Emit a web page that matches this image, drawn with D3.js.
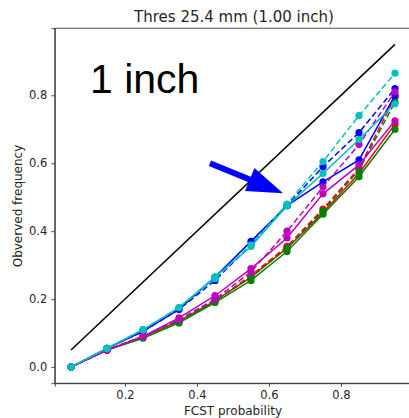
<!DOCTYPE html>
<html>
<head>
<meta charset="utf-8">
<script src="https://cdn.jsdelivr.net/npm/d3@7"></script>
<style>
    body { margin: 0; background: #fff; }
    svg { display: block; overflow: hidden; }
</style>
</head>
<body>
<div id="chart"></div>
<script>

// forecast probability bins
let probs = [0.05, 0.15, 0.25, 0.35, 0.45, 0.55, 0.65, 0.75, 0.85, 0.95];

// observed frequency per model (solid / dashed)
let redSolid     = [0.0, 0.050, 0.090, 0.135, 0.195, 0.265, 0.350, 0.455, 0.570, 0.715];
let redDashed    = [0.0, 0.050, 0.090, 0.135, 0.195, 0.270, 0.355, 0.465, 0.585, 0.795];
let greenSolid   = [0.0, 0.050, 0.085, 0.130, 0.190, 0.255, 0.340, 0.450, 0.560, 0.700];
let greenDashed  = [0.0, 0.050, 0.090, 0.135, 0.195, 0.265, 0.350, 0.460, 0.580, 0.780];
let blueSolid    = [0.0, 0.055, 0.105, 0.170, 0.265, 0.370, 0.475, 0.545, 0.610, 0.800];
let blueDashed   = [0.0, 0.055, 0.105, 0.170, 0.255, 0.360, 0.475, 0.590, 0.690, 0.820];
let magSolid     = [0.0, 0.050, 0.090, 0.145, 0.210, 0.290, 0.380, 0.510, 0.595, 0.725];
let magDashed    = [0.0, 0.050, 0.090, 0.140, 0.200, 0.280, 0.400, 0.530, 0.655, 0.810];
let cyanSolid    = [0.0, 0.055, 0.110, 0.175, 0.265, 0.355, 0.475, 0.570, 0.670, 0.775];
let cyanDashed   = [0.0, 0.055, 0.110, 0.175, 0.260, 0.360, 0.480, 0.605, 0.740, 0.865];

// perfect reliability reference
let diagonal = [0.05, 0.95];

let xTicks = [0.2, 0.4, 0.6, 0.8];
let yTicks = [0.0, 0.2, 0.4, 0.6, 0.8];

let series = [
    {values: redSolid, color: "#ff0000", dash: null},
    {values: redDashed, color: "#ff0000", dash: "6,3"},
    {values: greenSolid, color: "#008000", dash: null},
    {values: greenDashed, color: "#008000", dash: "6,3"},
    {values: blueSolid, color: "#0000ff", dash: null},
    {values: blueDashed, color: "#0000ff", dash: "6,3"},
    {values: magSolid, color: "#bf00bf", dash: null},
    {values: magDashed, color: "#bf00bf", dash: "6,3"},
    {values: cyanSolid, color: "#00bfbf", dash: null},
    {values: cyanDashed, color: "#00bfbf", dash: "6,3"}
];

let width = 409, height = 418;

let svg = d3.select("#chart")
    .append("svg")
    .attr("width", width)
    .attr("height", height);

// scales (domains padded like matplotlib autoscale)
let x = d3.scaleLinear()
    .domain([0.005, 0.995])
    .range([54.8, 411.2]);

let y = d3.scaleLinear()
    .domain([-0.0475, 0.9975])
    .range([383.2, 28.2]);

let font = "DejaVu Sans, sans-serif";

// axes
let xAxis = svg.append("g")
    .attr("transform", `translate(0, ${y.range()[0]})`)
    .call(d3.axisBottom(x).tickValues(xTicks).tickFormat(d3.format(".1f")).tickSizeOuter(0).tickSize(3.5).tickPadding(4));

let yAxis = svg.append("g")
    .attr("transform", `translate(${x.range()[0]}, 0)`)
    .call(d3.axisLeft(y).tickValues(yTicks).tickFormat(d3.format(".1f")).tickSizeOuter(0).tickSize(3.5).tickPadding(4));

[xAxis, yAxis].forEach(function(g) {
    g.selectAll("text").style("font-family", font).style("font-size", "11.5px").attr("fill", "#262626");
    g.selectAll("line").attr("stroke", "#262626").attr("stroke-width", 0.8);
    g.select(".domain").attr("stroke", "#262626").attr("stroke-width", 0.8);
});

// top / right frame
svg.append("rect")
    .attr("x", x.range()[0])
    .attr("y", y.range()[1])
    .attr("width", x.range()[1] - x.range()[0])
    .attr("height", y.range()[0] - y.range()[1])
    .attr("fill", "none")
    .attr("stroke", "#262626")
    .attr("stroke-width", 0.8);

// diagonal line
svg.append("line")
    .attr("x1", x(diagonal[0]))
    .attr("y1", y(diagonal[0]))
    .attr("x2", x(diagonal[1]))
    .attr("y2", y(diagonal[1]))
    .attr("stroke", "#000")
    .attr("stroke-width", 1.5);

let line = d3.line()
    .x((d, i) => x(probs[i]))
    .y((d) => y(d));

// draw each series with markers
series.forEach(function(s) {
    let g = svg.append("g");

    g.append("path")
        .datum(s.values)
        .attr("d", line)
        .attr("fill", "none")
        .attr("stroke", s.color)
        .attr("stroke-width", 1.5)
        .attr("stroke-dasharray", s.dash);

    g.selectAll("circle")
        .data(s.values)
        .enter()
        .append("circle")
        .attr("cx", (d, i) => x(probs[i]))
        .attr("cy", (d) => y(d))
        .attr("r", 3.6)
        .attr("fill", s.color);
});

// arrow annotation (tail -> tip in data coords)
let tail = [x(0.436), y(0.60)];
let tip = [x(0.639), y(0.512)];
let dx = tip[0] - tail[0], dy = tip[1] - tail[1];
let len = Math.sqrt(dx * dx + dy * dy);
let ux = dx / len, uy = dy / len;
let px = -uy, py = ux;
let headLen = 36, headHalf = 12.5, shaftHalf = 3;
let bx = tip[0] - ux * headLen, by = tip[1] - uy * headLen;
let arrowPts = [
    [tail[0] + px * shaftHalf, tail[1] + py * shaftHalf],
    [bx + px * shaftHalf, by + py * shaftHalf],
    [bx + px * headHalf, by + py * headHalf],
    tip,
    [bx - px * headHalf, by - py * headHalf],
    [bx - px * shaftHalf, by - py * shaftHalf],
    [tail[0] - px * shaftHalf, tail[1] - py * shaftHalf]
];
svg.append("polygon")
    .attr("points", arrowPts.map((p) => p.join(",")).join(" "))
    .attr("fill", "#0000ff");

// title
svg.append("text")
    .attr("x", 234)
    .attr("y", 22)
    .attr("text-anchor", "middle")
    .style("font-family", font)
    .style("font-size", "15px")
    .attr("fill", "#262626")
    .text("Thres 25.4 mm (1.00 inch)");

// big label
svg.append("text")
    .attr("x", 90)
    .attr("y", 93)
    .style("font-family", "Liberation Sans, Arial, sans-serif")
    .style("font-size", "41px")
    .attr("fill", "#000")
    .text("1 inch");

// axis labels
svg.append("text")
    .attr("x", (x.range()[0] + x.range()[1]) / 2)
    .attr("y", 415)
    .attr("text-anchor", "middle")
    .style("font-family", font)
    .style("font-size", "12px")
    .attr("fill", "#262626")
    .text("FCST probability");

svg.append("text")
    .attr("transform", "translate(22, 206) rotate(-90)")
    .attr("text-anchor", "middle")
    .style("font-family", font)
    .style("font-size", "12px")
    .attr("fill", "#262626")
    .text("Obverved frequency");

</script>
</body>
</html>
